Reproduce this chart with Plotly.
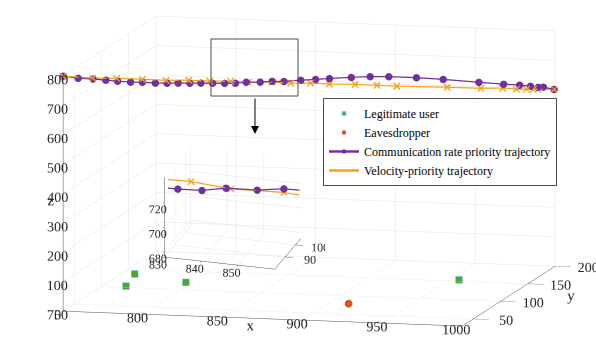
import plotly.graph_objects as go
import math

# ---------------- data ----------------
rate_x = [750, 757.6, 765.1, 771.7, 777.7, 784.3, 790.3, 796.9, 802.9, 808.5, 814.5, 820.1,
          826.1, 832.2, 837.7, 843.2, 850.3, 856.4, 862.4, 871.0, 878.5, 885.6, 896.7, 906.3,
          915.8, 929.9, 943.5, 961.7, 974.3, 982.4, 987.9, 991.9, 994.5, 1000]
rate_y = [30, 35.1, 40.1, 44.6, 48.6, 53.0, 57.1, 61.5, 65.5, 69.3, 73.3, 77.1, 81.1, 85.2,
          88.9, 92.6, 97.4, 101.5, 105.5, 111.3, 116.4, 121.1, 128.6, 135.0, 141.4, 150.9,
          160.0, 172.3, 180.7, 186.2, 189.9, 192.6, 194.3, 198.0]
rate_z = [800, 788, 781, 773, 766, 759, 755, 748, 744, 741, 737, 734, 730, 726, 723, 723,
          719, 718, 714, 713, 711, 710, 707, 704, 698, 686, 672, 651, 637, 629, 622, 616, 615, 604]

vel_x = [750, 765.1, 777.2, 790.3, 802.4, 814.0, 824.6, 835.2, 844.3, 856.4, 865.9, 876.0,
         885.6, 898.7, 909.8, 919.9, 945.6, 962.7, 973.8, 980.8, 985.9, 989.4, 991.9, 1000]
vel_y = [30, 40.1, 48.3, 57.1, 65.2, 73.0, 80.1, 87.3, 93.4, 101.5, 107.9, 114.7, 121.1,
         129.9, 137.4, 144.2, 161.4, 172.9, 180.4, 185.1, 188.5, 190.9, 192.6, 198]
vel_z = [800, 784, 776, 765, 754, 747, 738, 731, 722, 715, 706, 700, 691, 682, 672, 663,
         644, 630, 624, 616, 613, 611, 609, 604]

user_x = [764, 758, 796, 955.5]
user_y = [104, 137.5, 120, 154]
user_z = [0, 0, 0, 0]

eve_x = [912]
eve_y = [79]
eve_z = [0]

x_ticks = [750, 800, 850, 900, 950, 1000]
y_ticks = [50, 100, 150, 200]
z_ticks = [0, 100, 200, 300, 400, 500, 600, 700, 800]

in_x_ticks = [830, 840, 850]
in_y_ticks = [90, 100]
in_z_ticks = [680, 700, 720]

# ---------------- styles ----------------
PURPLE = "#7030A0"
ORANGE = "#F5A31A"
GREEN = "#4DA832"
EDGE = "#5BB8E8"
RED = "#D95319"
FONT = "Liberation Serif"

W, H = 596, 360


def px(x):
    return x / W


def py(y):
    return 1 - y / H


def traces(scene, show):
    return [
        go.Scatter3d(x=user_x, y=user_y, z=user_z, mode="markers", name="Legitimate user",
                     marker=dict(symbol="square", size=3.5, color=GREEN,
                                 line=dict(color=EDGE, width=1)),
                     scene=scene, showlegend=show),
        go.Scatter3d(x=eve_x, y=eve_y, z=eve_z, mode="markers", name="Eavesdropper",
                     marker=dict(symbol="circle", size=4.5, color=RED),
                     scene=scene, showlegend=show),
        go.Scatter3d(x=rate_x, y=rate_y, z=rate_z, mode="lines+markers",
                     name="Communication rate priority trajectory",
                     line=dict(color=PURPLE, width=2.5),
                     marker=dict(symbol="circle", size=4.3, color=PURPLE),
                     scene=scene, showlegend=show),
        go.Scatter3d(x=vel_x, y=vel_y, z=vel_z, mode="lines+markers",
                     name="Velocity-priority trajectory",
                     line=dict(color=ORANGE, width=2.5),
                     marker=dict(symbol="x", size=1.6, color=ORANGE),
                     scene=scene, showlegend=show),
    ]


fig = go.Figure()
for t in traces("scene", True):
    fig.add_trace(t)
for t in traces("scene2", False):
    fig.add_trace(t)


def ax(title, rng, ticks, size=13, tl=4):
    return dict(title=dict(text=title, font=dict(family=FONT, size=15, color="#262626")),
                range=rng, tickvals=ticks, autorange=False, tickangle=0,
                tickfont=dict(family=FONT, size=size, color="#262626"),
                showbackground=False, showgrid=True, gridcolor="#e3e3e3", gridwidth=1,
                showline=True, linecolor="#4d4d4d", linewidth=1,
                ticks="outside", tickcolor="#4d4d4d", ticklen=tl,
                zeroline=False, showspikes=False)


a1, t1 = math.radians(13.5), math.radians(8.9)
r1 = 1.5
a2, t2 = math.radians(17), math.radians(21)
r2 = 1.5
S1 = 2.28
S2 = 1.65
# screen shift of the main view (scene units)
cx, cy, cz = -0.062 * math.cos(a1), -0.062 * math.sin(a1), -0.05

fig.update_layout(
    width=W, height=H,
    margin=dict(l=0, r=0, t=0, b=0),
    paper_bgcolor="white",
    font=dict(family=FONT, color="#262626"),
    scene=dict(
        domain=dict(x=[0.0, 1.0], y=[0.0, 1.0]),
        xaxis=ax("x", [750, 1000], x_ticks, tl=16),
        yaxis=ax("y", [30, 200], y_ticks, tl=6),
        zaxis=ax("z", [0, 800], z_ticks, tl=5),
        aspectmode="manual", aspectratio=dict(x=1 * S1, y=0.97 * S1, z=0.58 * S1),
        camera=dict(projection=dict(type="orthographic"),
                    eye=dict(x=cx + r1 * math.sin(a1) * math.cos(t1),
                             y=cy - r1 * math.cos(a1) * math.cos(t1),
                             z=cz + r1 * math.sin(t1)),
                    up=dict(x=0, y=0, z=1), center=dict(x=cx, y=cy, z=cz)),
    ),
    scene2=dict(
        domain=dict(x=[px(140), px(325)], y=[py(278), py(138)]),
        xaxis=ax("", [830, 860], in_x_ticks, 12, tl=8),
        yaxis=ax("", [80, 105], in_y_ticks, 12),
        zaxis=ax("", [675, 740], in_z_ticks, 12),
        aspectmode="manual", aspectratio=dict(x=1 * S2, y=0.77 * S2, z=0.74 * S2),
        camera=dict(projection=dict(type="orthographic"),
                    eye=dict(x=r2 * math.sin(a2) * math.cos(t2),
                             y=-r2 * math.cos(a2) * math.cos(t2),
                             z=r2 * math.sin(t2)),
                    up=dict(x=0, y=0, z=1)),
    ),
    legend=dict(x=px(323), y=py(98), xanchor="left", yanchor="top",
                bgcolor="white", bordercolor="#4d4d4d", borderwidth=1,
                font=dict(family=FONT, size=12, color="#000"),
                itemwidth=30, tracegroupgap=0),
    shapes=[dict(type="rect", xref="paper", yref="paper",
                 x0=px(211), x1=px(298), y0=py(96), y1=py(39),
                 line=dict(color="#4d4d4d", width=1))],
    annotations=[dict(xref="paper", yref="paper", x=px(255), y=py(134),
                      ax=0, ay=-37, showarrow=True, arrowhead=2, arrowsize=1.6,
                      arrowwidth=1, arrowcolor="#000", text="")],
)

fig.write_html("out.html", config={"displayModeBar": False},
               post_script="document.body.style.margin='0px';")
